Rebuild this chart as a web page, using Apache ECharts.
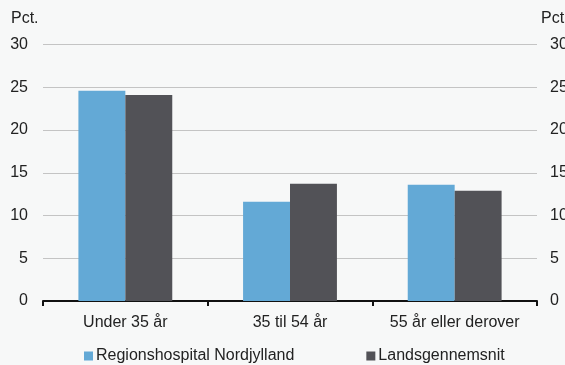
<!DOCTYPE html>
<html><head><meta charset="utf-8">
<script src="https://cdn.jsdelivr.net/npm/echarts@6/dist/echarts.min.js"></script>
<style>html,body{margin:0;padding:0;background:#f7f8f8;}#c{width:565px;height:365px;}</style>
</head><body><div id="c"></div>
<script>
const categories = ['Under 35 år', '35 til 54 år', '55 år eller derover'];
const regionValues = [24.6, 11.6, 13.6];
const landsValues = [24.1, 13.7, 12.9];
const yTicks = [0, 5, 10, 15, 20, 25, 30];
const seriesNames = ['Regionshospital Nordjylland', 'Landsgennemsnit'];

const font = 'Liberation Sans, Arial, sans-serif';
const fs = 16;
const chart = echarts.init(document.getElementById('c'), null, {renderer: 'canvas'});
const yAxisBase = {
  type: 'value', min: yTicks[0], max: yTicks[yTicks.length - 1], interval: 5,
  axisLine: {show: false}, axisTick: {show: false},
  axisLabel: {color: '#222', fontSize: fs, fontFamily: font}
};
chart.setOption({
  backgroundColor: '#f7f8f8',
  animation: false,
  grid: {left: 43, right: 28, top: 44.5, bottom: 64, containLabel: false, outerBoundsMode: 'none'},
  graphic: [
    {type: 'text', left: 11, top: 11, style: {text: 'Pct.', fontSize: fs, fontFamily: font, fill: '#222'}},
    {type: 'text', left: 541, top: 11, style: {text: 'Pct.', fontSize: fs, fontFamily: font, fill: '#222'}}
  ],
  legend: {
    left: 84, top: 348, padding: 0, itemWidth: 9, itemHeight: 9, itemGap: 72,
    icon: 'rect',
    textStyle: {color: '#222', fontSize: fs, fontFamily: font, padding: [0, 0, 0, -2]},
    data: seriesNames
  },
  xAxis: {
    type: 'category', data: categories,
    axisLine: {lineStyle: {color: '#111', width: 2}},
    axisTick: {show: true, length: 5, lineStyle: {color: '#111', width: 2}},
    axisLabel: {color: '#222', fontSize: fs, fontFamily: font, margin: 14, interval: 0, hideOverlap: false}
  },
  yAxis: [
    Object.assign({}, yAxisBase, {
      position: 'left',
      axisLabel: Object.assign({}, yAxisBase.axisLabel, {margin: 15}),
      splitLine: {lineStyle: {color: '#c4c4c4', width: 1}}
    }),
    Object.assign({}, yAxisBase, {
      position: 'right',
      axisLabel: Object.assign({}, yAxisBase.axisLabel, {margin: 13}),
      splitLine: {show: false}
    })
  ],
  series: [
    {name: seriesNames[0], type: 'bar', data: regionValues, barGap: '0%', barCategoryGap: '43%',
     itemStyle: {color: '#63a9d6'}},
    {name: seriesNames[1], type: 'bar', data: landsValues,
     itemStyle: {color: '#525257'}}
  ]
});
</script></body></html>
